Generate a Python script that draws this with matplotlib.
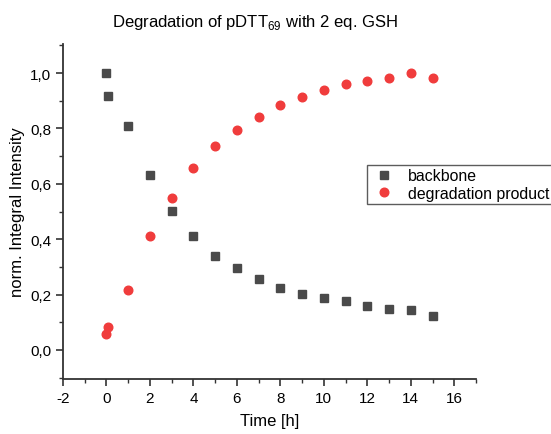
import numpy as np
import matplotlib.pyplot as plt
from matplotlib.ticker import MultipleLocator, FuncFormatter

plt.rcParams['font.family'] = ['Liberation Sans', 'DejaVu Sans']
plt.rcParams['mathtext.fontset'] = 'custom'
plt.rcParams['mathtext.rm'] = 'Liberation Sans'

time_h = [0, 0.083, 1, 2, 3, 4, 5, 6, 7, 8, 9, 10, 11, 12, 13, 14, 15]
backbone = [1.0, 0.917, 0.809, 0.631, 0.501, 0.410, 0.339, 0.296, 0.257,
            0.225, 0.203, 0.188, 0.177, 0.160, 0.149, 0.144, 0.123]
product = [0.057, 0.084, 0.215, 0.413, 0.550, 0.656, 0.735, 0.794, 0.840,
           0.886, 0.912, 0.939, 0.959, 0.972, 0.984, 0.999, 0.984]

fig = plt.figure(figsize=(5.51, 4.35), dpi=100)
ax = fig.add_axes([63 / 551, 1 - 380 / 435, 413 / 551, 335 / 435])

ax.plot(time_h, backbone, 's', color='#4a4a4a', ms=5.4, mec='#4a4a4a', label='backbone')
ax.plot(time_h, product, 'o', color='#f03c3c', ms=6.2, mec='#f03c3c', label='degradation product')

ax.set_xlim(-2, 17)
ax.set_ylim(-0.105, 1.105)
ax.xaxis.set_major_locator(MultipleLocator(2))
ax.xaxis.set_minor_locator(MultipleLocator(1))
ax.yaxis.set_major_locator(MultipleLocator(0.2))
ax.yaxis.set_minor_locator(MultipleLocator(0.1))
ax.xaxis.set_major_formatter(FuncFormatter(lambda v, p: f'{v:.0f}'))
ax.yaxis.set_major_formatter(FuncFormatter(lambda v, p: f'{v:.1f}'.replace('.', ',')))

for side in ('top', 'right'):
    ax.spines[side].set_visible(False)
for side in ('left', 'bottom'):
    ax.spines[side].set_linewidth(1.3)
    ax.spines[side].set_color('#333333')
ax.tick_params(which='major', direction='out', length=5, width=1.2, labelsize=11, colors='#333333', labelcolor='black')
ax.tick_params(which='minor', direction='out', length=3, width=1.0, colors='#333333')

ax.set_xlabel('Time [h]', fontsize=12, labelpad=6)
ax.set_ylabel('norm. Integral Intensity', fontsize=12, labelpad=4)
fig.text(255 / 551, 1 - 22 / 435, 'Degradation of pDTT$_{69}$ with 2 eq. GSH',
         ha='center', va='center', fontsize=12)

leg = ax.legend(loc='upper left', bbox_to_anchor=(367 / 551, 1 - 166 / 435),
                bbox_transform=fig.transFigure, fontsize=11.4, frameon=True,
                fancybox=False, borderpad=0.2, labelspacing=0.15,
                handletextpad=0.6, borderaxespad=0, handlelength=1.8)
leg.get_frame().set_edgecolor('#333333')
leg.get_frame().set_linewidth(1.0)

fig.savefig('out.png', dpi=100)
